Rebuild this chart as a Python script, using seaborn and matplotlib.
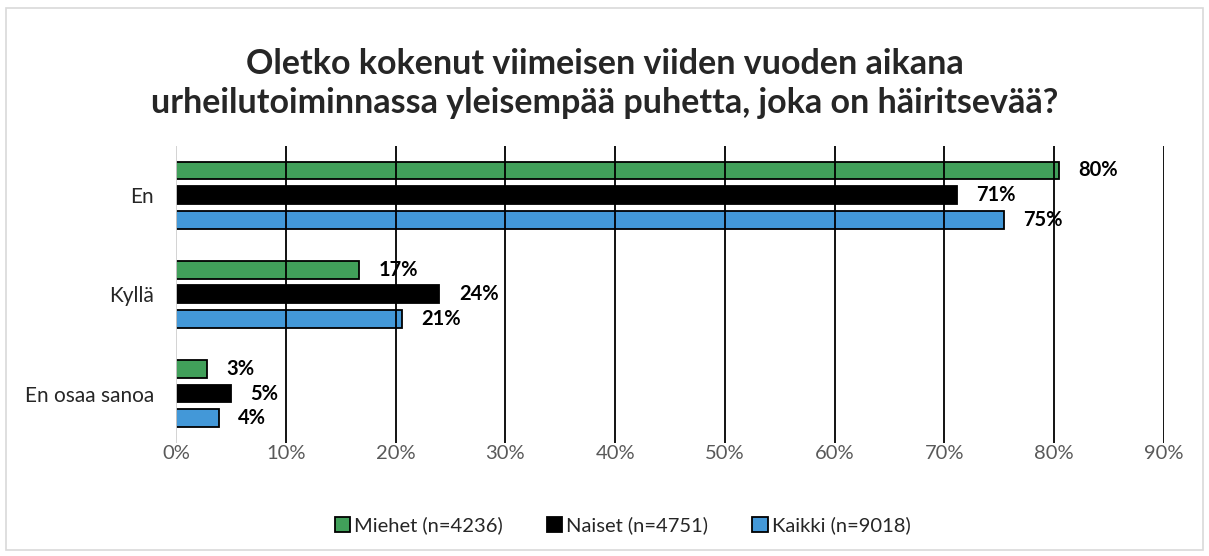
import matplotlib
matplotlib.use("Agg")
import matplotlib.pyplot as plt
from matplotlib.patches import Rectangle
import pandas as pd
import seaborn as sns

# data (percent)
categories = ["En", "Kyllä", "En osaa sanoa"]
groups = ["Miehet (n=4236)", "Naiset (n=4751)", "Kaikki (n=9018)"]
miehet = [80.4, 16.7, 2.8]
naiset = [71.1, 24.0, 5.0]
kaikki = [75.4, 20.6, 3.9]
tick_values = [0, 10, 20, 30, 40, 50, 60, 70, 80, 90]
title = ("Oletko kokenut viimeisen viiden vuoden aikana\n"
         "urheilutoiminnassa yleisempää puhetta, joka on häiritsevää?")

colors = ["#41a05a", "#000000", "#4398d8"]

rows = []
for g, vals in zip(groups, [miehet, naiset, kaikki]):
    for c, v in zip(categories, vals):
        rows.append({"vastaus": c, "ryhma": g, "osuus": v})
df = pd.DataFrame(rows)

sns.set_style("white")
plt.rcParams["font.family"] = ["Lato", "DejaVu Sans"]

fig = plt.figure(figsize=(12.09, 5.56), dpi=100)
ax = fig.add_axes([0.1456, 0.203, 0.8172, 0.535])

sns.barplot(data=df, y="vastaus", x="osuus", hue="ryhma", order=categories,
            hue_order=groups, palette=colors, orient="h", width=0.75, gap=0.28,
            edgecolor="black", linewidth=1.3, saturation=1, ax=ax)

# data labels
for container in ax.containers:
    ax.bar_label(container, labels=["{:.0f}%".format(b.get_width()) for b in container],
                 padding=14, fontsize=14.5, fontweight="bold", color="black")

ax.set_xlim(0, 90)
ax.set_ylim(2.5, -0.5)
ax.set_xticks(tick_values)
ax.set_xticklabels(["{}%".format(t) for t in tick_values], fontsize=14.5, color="#595959")
ax.tick_params(axis="y", labelsize=15, labelcolor="#262626", length=0, pad=16)
ax.tick_params(axis="x", length=0, pad=1)
ax.set_xlabel("")
ax.set_ylabel("")

ax.xaxis.grid(True, color="black", linewidth=1.3)
ax.set_axisbelow(False)
ax.get_xgridlines()[0].set_color("#d0d0d0")
for s in ax.spines.values():
    s.set_visible(False)

ax.legend(loc="upper center", bbox_to_anchor=(0.452, -0.185), ncol=3, frameon=False,
          fontsize=14.5, handlelength=0.75, handleheight=0.75, handletextpad=0.2,
          columnspacing=2.2)

fig.text(0.5, 0.85, title, ha="center", va="center", fontsize=24.5,
         fontweight="bold", linespacing=1.3)

fig.patches.append(Rectangle((6 / 1209, 6 / 556), 1197 / 1209, 542 / 556,
                             transform=fig.transFigure, fill=False,
                             edgecolor="#d9d9d9", linewidth=1.2))

fig.savefig("out.png", dpi=100)
